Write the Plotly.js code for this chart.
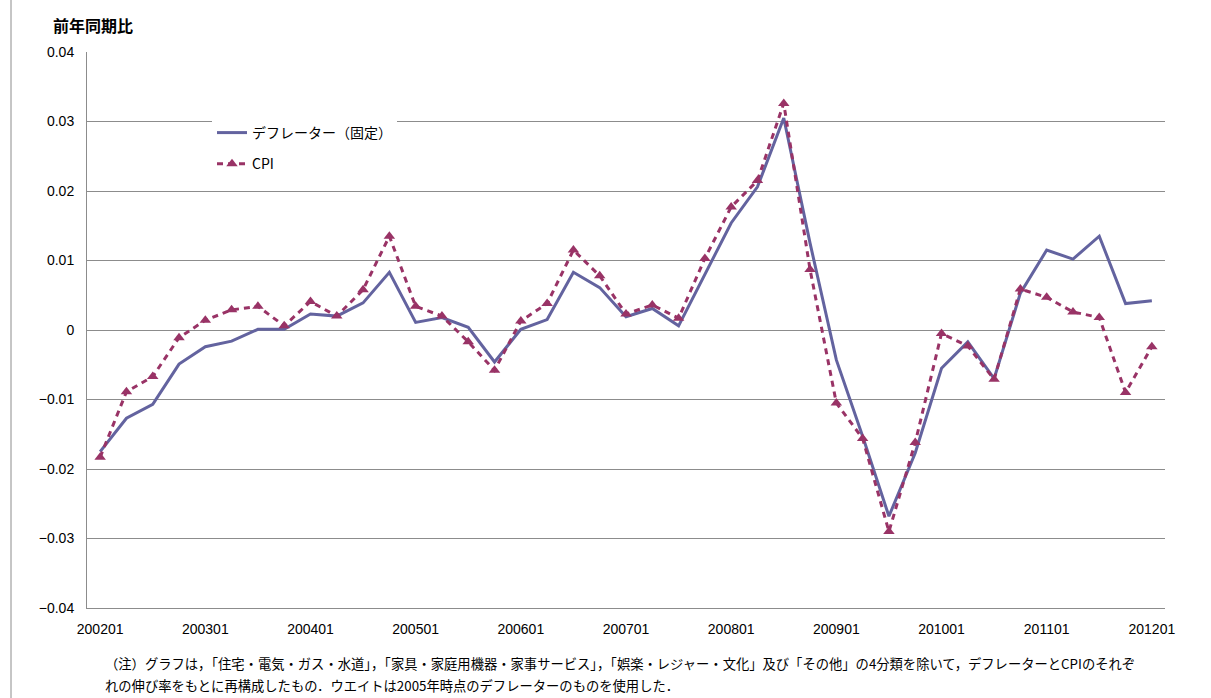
<!DOCTYPE html>
<html><head><meta charset="utf-8">
<script src="https://cdn.plot.ly/plotly-3.0.1.min.js"></script>
<style>html,body{margin:0;padding:0;background:#fff}#chart{width:1211px;height:698px}</style>
</head><body><div id="chart"></div>
<script>
const quarters = ["200201","200202","200203","200204","200301","200302","200303","200304",
  "200401","200402","200403","200404","200501","200502","200503","200504",
  "200601","200602","200603","200604","200701","200702","200703","200704",
  "200801","200802","200803","200804","200901","200902","200903","200904",
  "201001","201002","201003","201004","201101","201102","201103","201104","201201"];
const tickLabels = ["200201","200301","200401","200501","200601","200701","200801","200901","201001","201101","201201"];
const deflator = [-0.0175,-0.0127,-0.0107,-0.0049,-0.0024,-0.0016,0.0001,0.0001,
  0.0023,0.0020,0.0039,0.0083,0.0011,0.0018,0.0004,-0.0046,
  0.0001,0.0015,0.0083,0.0061,0.0019,0.0031,0.0006,0.0080,
  0.0154,0.0206,0.0305,0.0125,-0.0043,-0.0153,-0.0268,-0.0177,
  -0.0055,-0.0017,-0.0070,0.0053,0.0115,0.0102,0.0135,0.0038,0.0042];
const cpi = [-0.0183,-0.0089,-0.0067,-0.0011,0.0014,0.0029,0.0034,0.0006,
  0.0041,0.0020,0.0058,0.0135,0.0034,0.0020,-0.0017,-0.0058,
  0.0013,0.0038,0.0115,0.0078,0.0023,0.0036,0.0017,0.0103,
  0.0177,0.0215,0.0326,0.0087,-0.0105,-0.0156,-0.0290,-0.0162,
  -0.0005,-0.0023,-0.0071,0.0059,0.0047,0.0026,0.0018,-0.0090,-0.0024];
const seriesNames = ["デフレーター（固定）","CPI"];
const yTitle = "前年同期比";
const note1 = "（注）グラフは，「住宅・電気・ガス・水道」，「家具・家庭用機器・家事サービス」，「娯楽・レジャー・文化」及び「その他」の4分類を除いて，デフレーターとCPIのそれぞ";
const note2 = "れの伸び率をもとに再構成したもの．ウエイトは2005年時点のデフレーターのものを使用した．";

const W = 1211, H = 698, L = 87, R = 46, T = 52, B = 90;
const pw = W - L - R, ph = H - T - B;
const px = x => (x - L) / pw;
const py = y => (H - B - y) / ph;

const traces = [
  {x: quarters, y: deflator, name: seriesNames[0], type: "scatter", mode: "lines",
   line: {color: "#63639f", width: 3}, legendgroup: "a"},
  {x: quarters, y: cpi, name: seriesNames[1], type: "scatter", mode: "lines+markers",
   line: {color: "#993366", width: 3, dash: "6px,5px"},
   marker: {symbol: "triangle-up", size: 10, color: "#993366"}, legendgroup: "b"}
];

const jp = "'Noto Sans CJK JP', 'Noto Sans', sans-serif";
const layout = {
  width: W, height: H,
  margin: {l: L, r: R, t: T, b: B},
  paper_bgcolor: "#fff", plot_bgcolor: "#fff",
  font: {family: "'Liberation Sans', Arial, sans-serif", size: 14, color: "#000"},
  showlegend: true,
  legend: {x: px(212), y: py(117), xanchor: "left", yanchor: "top",
    bgcolor: "#fff", font: {family: jp, size: 14, color: "#000"},
    traceorder: "grouped", tracegroupgap: 10},
  xaxis: {type: "category", range: [-0.5, 40.5], tickvals: tickLabels, ticktext: tickLabels,
    showgrid: false, showline: true, linecolor: "#8c8c8c", linewidth: 1,
    ticks: "", tickangle: 0, ticklabelstandoff: 8, tickfont: {size: 14}, fixedrange: true},
  yaxis: {range: [-0.04, 0.04], dtick: 0.01, tick0: 0, showgrid: true, gridcolor: "#8c8c8c", gridwidth: 1,
    zeroline: true, zerolinecolor: "#8c8c8c", zerolinewidth: 1,
    showline: true, linecolor: "#8c8c8c", linewidth: 1, ticks: "", ticklabelstandoff: 9,
    tickfont: {size: 14}, fixedrange: true},
  shapes: [
    {type: "line", xref: "paper", yref: "paper", x0: px(11), x1: px(11), y0: py(0), y1: py(698),
     line: {color: "#8c8c8c", width: 1}}
  ],
  annotations: [
    {text: "<b>" + yTitle + "</b>", xref: "paper", yref: "paper", x: px(51), y: py(25),
     xanchor: "left", yanchor: "middle", showarrow: false, font: {family: jp, size: 16, color: "#000"}},
    {text: note1, xref: "paper", yref: "paper", x: px(103), y: py(663),
     xanchor: "left", yanchor: "middle", showarrow: false, font: {family: jp, size: 13.3, color: "#000"}},
    {text: note2, xref: "paper", yref: "paper", x: px(103), y: py(685),
     xanchor: "left", yanchor: "middle", showarrow: false, font: {family: jp, size: 13.3, color: "#000"}}
  ]
};
Plotly.newPlot("chart", traces, layout, {displayModeBar: false, staticPlot: true});
</script>
</body></html>
